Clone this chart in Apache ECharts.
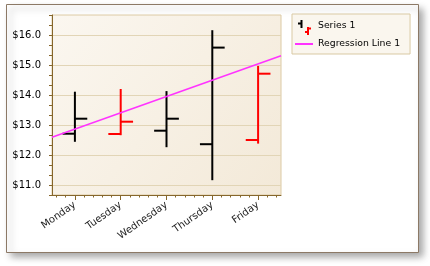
<!DOCTYPE html>
<html>
<head>
<meta charset="utf-8">
<script src="https://cdn.jsdelivr.net/npm/echarts@6/dist/echarts.min.js"></script>
<style>
html,body{margin:0;padding:0;background:#fff;}
#c{width:430px;height:266px;}
</style>
</head>
<body>
<div id="c"></div>
<script>
// ---- data ----
const categories = ['Monday', 'Tuesday', 'Wednesday', 'Thursday', 'Friday'];
const opens  = [12.71, 12.70, 12.81, 12.36, 12.50];
const highs  = [14.11, 14.20, 14.13, 16.16, 14.97];
const lows   = [12.44, 12.66, 12.26, 11.16, 12.38];
const closes = [13.21, 13.11, 13.21, 15.58, 14.71];
const regressionValues = [12.59, 15.31]; // at left and right edge of plot
const yTickLabels = [11, 12, 13, 14, 15, 16];
const seriesName = 'Series 1';
const regressionName = 'Regression Line 1';

const FONT = 'DejaVu Sans';
const AXIS_COLOR = '#86672c';
const Y_MIN = 32 / 3, Y_MAX = 50 / 3;

const yMinorTicks = [];
for (let k = 32; k <= 50; k++) yMinorTicks.push(k / 3);
const xMinorTicks = [];
for (let i = 0; i < categories.length; i++) {
  [-0.4, -0.2, 0.2, 0.4].forEach(d => xMinorTicks.push(i + d));
}

const stockData = categories.map((c, i) => [i, opens[i], highs[i], lows[i], closes[i]]);

const lineIcon = 'image://data:image/svg+xml;charset=utf-8,' + encodeURIComponent(
  '<svg xmlns="http://www.w3.org/2000/svg" width="18" height="14" viewBox="0 0 18 14">' +
  '<line x1="0" y1="7" x2="18" y2="7" stroke="#ff33ff" stroke-width="2"/></svg>');

// legend icon for the stock series (drawn as graphic lines inside the legend box)
const LX = 295, LY = 19;
function seg(x1, y1, x2, y2, color) {
  return {type: 'line', z: 100, silent: true,
          shape: {x1: LX + x1, y1: LY + y1, x2: LX + x2, y2: LY + y2},
          style: {stroke: color, lineWidth: 2}};
}

const chart = echarts.init(document.getElementById('c'));
chart.setOption({
  animation: false,
  backgroundColor: '#fff',
  graphic: [{
    type: 'rect', z: -10, silent: true,
    shape: {x: 6.5, y: 4.5, width: 412, height: 248},
    style: {fill: '#fff', stroke: '#8c7966', lineWidth: 1,
            shadowBlur: 7, shadowOffsetX: 4, shadowOffsetY: 4, shadowColor: 'rgba(0,0,0,0.35)'}
  },
    seg(6.5, 1, 6.5, 9, '#000'), seg(3, 4.5, 6.5, 4.5, '#000'),
    seg(13, 8, 13, 16, '#f00'), seg(13, 9.5, 16, 9.5, '#f00'), seg(10, 13, 13, 13, '#f00')
  ],
  grid: {
    left: 52, top: 15, width: 229, height: 180,
    show: true,
    borderColor: '#dccaa4', borderWidth: 1,
    backgroundColor: new echarts.graphic.LinearGradient(0, 0, 1, 1, [
      {offset: 0, color: '#fbf7f0'}, {offset: 1, color: '#f3e9d8'}
    ])
  },
  legend: {
    orient: 'vertical',
    left: 292, top: 14,
    padding: [5, 10, 3, 3],
    itemGap: 4, itemWidth: 18, itemHeight: 14,
    backgroundColor: '#faf6ee',
    borderColor: '#d9c9a3', borderWidth: 1, borderRadius: 0,
    textStyle: {fontFamily: FONT, fontSize: 9.3, color: '#000'},
    data: [
      {name: seriesName, icon: 'rect', itemStyle: {color: 'rgba(0,0,0,0)', borderWidth: 0}},
      {name: regressionName, icon: lineIcon}
    ]
  },
  xAxis: [{
    type: 'category',
    data: categories,
    boundaryGap: true,
    axisLine: {show: true, onZero: false, lineStyle: {color: AXIS_COLOR, width: 1}},
    axisTick: {show: true, alignWithLabel: true, length: 5, lineStyle: {color: AXIS_COLOR}},
    axisLabel: {rotate: 35, margin: 9, fontFamily: FONT, fontSize: 10, color: '#222'},
    splitLine: {show: false}
  }, {
    type: 'value', min: -0.5, max: 4.5, position: 'bottom',
    axisLine: {show: false, onZero: false},
    axisLabel: {show: false},
    splitLine: {show: false},
    axisTick: {show: true, length: 2.5, customValues: xMinorTicks, lineStyle: {color: AXIS_COLOR}}
  }],
  yAxis: [{
    type: 'value', min: Y_MIN, max: Y_MAX, position: 'left',
    axisLine: {show: true, onZero: false, lineStyle: {color: AXIS_COLOR, width: 1}},
    axisTick: {show: true, length: 3, customValues: yTickLabels, lineStyle: {color: AXIS_COLOR}},
    axisLabel: {customValues: yTickLabels, margin: 11, fontFamily: FONT, fontSize: 10, color: '#000',
                formatter: v => '$' + Number(v).toFixed(1)},
    splitLine: {show: true, lineStyle: {color: '#e2d5b6', width: 1}}
  }, {
    type: 'value', min: Y_MIN, max: Y_MAX, position: 'left',
    axisLine: {show: false, onZero: false},
    axisLabel: {show: false},
    splitLine: {show: false},
    axisTick: {show: true, length: 3, customValues: yMinorTicks, lineStyle: {color: AXIS_COLOR}}
  }],
  series: [{
    name: seriesName,
    type: 'custom',
    xAxisIndex: 0, yAxisIndex: 0,
    encode: {x: 0, y: [1, 2, 3, 4]},
    data: stockData,
    renderItem: function (params, api) {
      const i = api.value(0);
      const o = api.value(1), h = api.value(2), l = api.value(3), c = api.value(4);
      const prev = i > 0 ? closes[i - 1] : -Infinity;
      const color = c < prev ? '#ff0000' : '#000000';
      const t = api.size([1, 0])[0] * 0.27;
      const pH = api.coord([i, h]), pL = api.coord([i, l]);
      const pO = api.coord([i, o]), pC = api.coord([i, c]);
      const st = {stroke: color, lineWidth: 2};
      return {type: 'group', children: [
        {type: 'line', shape: {x1: pH[0], y1: pH[1], x2: pL[0], y2: pL[1]}, style: st},
        {type: 'line', shape: {x1: pO[0] - t, y1: pO[1], x2: pO[0], y2: pO[1]}, style: st},
        {type: 'line', shape: {x1: pC[0], y1: pC[1], x2: pC[0] + t, y2: pC[1]}, style: st}
      ]};
    }
  }, {
    name: regressionName,
    type: 'line',
    xAxisIndex: 1, yAxisIndex: 0,
    data: [[-0.5, regressionValues[0]], [4.5, regressionValues[1]]],
    symbol: 'none',
    lineStyle: {color: '#ff33ff', width: 1.5},
    itemStyle: {color: '#ff33ff'}
  }]
});
</script>
</body>
</html>
